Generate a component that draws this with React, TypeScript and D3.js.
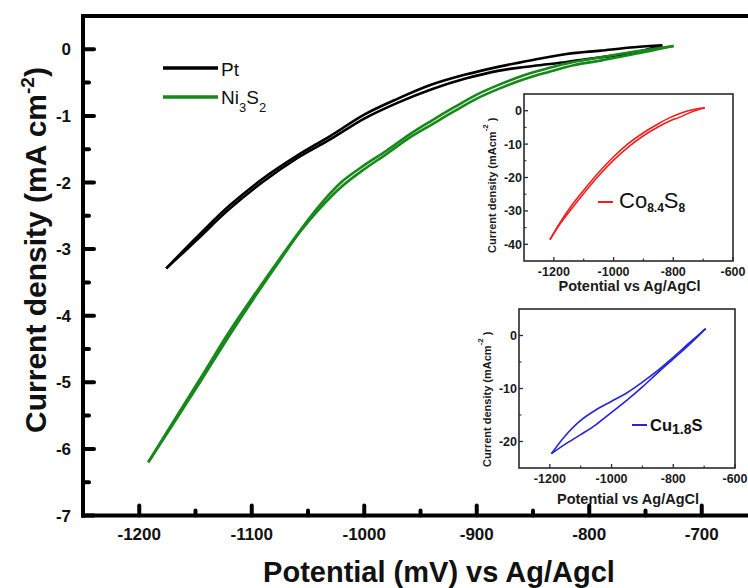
import React from "react";
import * as d3 from "d3";

type Pt = [number, number];

// ---------- data ----------
const ptUpper: Pt[] = [[-1176,-3.29],[-1150,-2.84],[-1120,-2.35],[-1090,-1.94],[-1060,-1.60],[-1030,-1.30],[-1000,-0.98],[-970,-0.74],[-940,-0.53],[-910,-0.38],[-880,-0.26],[-850,-0.16],[-820,-0.07],[-790,-0.02],[-760,0.03],[-735,0.06]];
const ptLower: Pt[] = [[-735,0.06],[-760,-0.05],[-790,-0.12],[-820,-0.19],[-850,-0.25],[-880,-0.32],[-910,-0.44],[-940,-0.60],[-970,-0.80],[-1000,-1.04],[-1030,-1.35],[-1060,-1.64],[-1090,-1.99],[-1120,-2.40],[-1150,-2.88],[-1176,-3.29]];
const niLower: Pt[] = [[-725,0.05],[-745,-0.02],[-769,-0.10],[-790,-0.17],[-814,-0.24],[-836,-0.34],[-858,-0.45],[-880,-0.59],[-900,-0.74],[-920,-0.93],[-940,-1.13],[-960,-1.33],[-980,-1.57],[-1000,-1.80],[-1020,-2.06],[-1040,-2.40],[-1057,-2.74],[-1075,-3.17],[-1095,-3.66],[-1120,-4.30],[-1146,-5.00],[-1170,-5.63],[-1192,-6.20]];
const niUpper: Pt[] = [[-1192,-6.20],[-1170,-5.60],[-1146,-4.95],[-1120,-4.24],[-1095,-3.62],[-1075,-3.14],[-1057,-2.72],[-1040,-2.35],[-1020,-1.99],[-1000,-1.74],[-980,-1.52],[-960,-1.28],[-940,-1.07],[-920,-0.87],[-900,-0.68],[-880,-0.53],[-858,-0.39],[-836,-0.28],[-814,-0.19],[-790,-0.12],[-769,-0.06],[-745,0.0],[-725,0.05]];

const coLower: Pt[] = [[-694,0.9],[-720,0.2],[-750,-0.8],[-780,-2.0],[-810,-3.0],[-850,-4.8],[-900,-7.5],[-950,-10.8],[-1000,-14.8],[-1050,-19.5],[-1100,-24.8],[-1140,-29.3],[-1180,-34.0],[-1213,-38.6]];
const coUpper: Pt[] = [[-1213,-38.6],[-1180,-33.6],[-1140,-28.3],[-1100,-23.8],[-1050,-18.5],[-1000,-13.8],[-950,-9.8],[-900,-6.6],[-850,-3.9],[-810,-2.0],[-780,-0.9],[-750,0.0],[-720,0.6],[-694,0.9]];

const cuUpper: Pt[] = [[-1195,-22.3],[-1150,-18.9],[-1100,-16.0],[-1050,-14.0],[-1000,-12.4],[-950,-10.8],[-900,-8.8],[-850,-6.6],[-800,-4.1],[-750,-1.5],[-695,1.3]];
const cuLower: Pt[] = [[-695,1.3],[-750,-1.8],[-800,-4.4],[-850,-7.0],[-900,-9.7],[-950,-12.2],[-1000,-14.5],[-1050,-16.8],[-1100,-18.7],[-1150,-20.5],[-1195,-22.3]];

const mainXTicks = [-1200, -1100, -1000, -900, -800, -700];
const mainXMinor = [-1250, -1150, -1050, -950, -850, -750, -650];
const mainYTicks = [0, -1, -2, -3, -4, -5, -6, -7];
const mainYMinor = [-0.5, -1.5, -2.5, -3.5, -4.5, -5.5, -6.5];
const insetXTicks = [-1200, -1000, -800, -600];
const insetXMinor = [-1100, -900, -700];
const coYTicks = [0, -10, -20, -30, -40];
const coYMinor = [-5, -15, -25, -35];
const cuYTicks = [0, -10, -20];
const cuYMinor = [-5, -15];

const FONT = "'Liberation Sans', Arial, Helvetica, sans-serif";
const GREEN = "#17891b";
const RED = "#f21d1d";
const BLUE = "#2424d8";

const curve = d3.curveCatmullRom.alpha(0.5);

function Inset(props: {
  x0: number; x1: number; y0: number; y1: number;
  yDomain: [number, number]; yTicks: number[]; yMinor: number[];
  series: Pt[][]; color: string;
  titleBase: number; labelX: number; labelY: number;
}) {
  const { x0, x1, y0, y1, yDomain, yTicks, yMinor, series, color, titleBase, labelX, labelY } = props;
  const x = d3.scaleLinear().domain([-1300, -600]).range([x0, x1]);
  const y = d3.scaleLinear().domain(yDomain).range([y1, y0]);
  const line = d3.line<Pt>().x(d => x(d[0])).y(d => y(d[1])).curve(curve);
  return (
    <g>
      <rect x={x0} y={y0} width={x1 - x0} height={y1 - y0} fill="#fff" stroke="#2a2a2a" strokeWidth={1.6} />
      {series.map((s, i) => (
        <path key={i} d={line(s) || ""} fill="none" stroke={color} strokeWidth={1.6} strokeLinejoin="round" />
      ))}
      {yTicks.map(t => (
        <g key={"y" + t}>
          <line x1={x0} x2={x0 + 4} y1={y(t)} y2={y(t)} stroke="#2a2a2a" strokeWidth={1.3} />
          <text x={x0 - 2} y={y(t) + 4.5} textAnchor="end" fontFamily={FONT} fontWeight="bold" fontSize={12.5} fill="#1a1a1a">{t}</text>
        </g>
      ))}
      {yMinor.map(t => (
        <line key={"ym" + t} x1={x0} x2={x0 + 2.5} y1={y(t)} y2={y(t)} stroke="#2a2a2a" strokeWidth={1.1} />
      ))}
      {insetXTicks.map(t => (
        <g key={"x" + t}>
          <line x1={x(t)} x2={x(t)} y1={y1} y2={y1 - 4} stroke="#2a2a2a" strokeWidth={1.3} />
          <text x={x(t)} y={y1 + 15} textAnchor="middle" fontFamily={FONT} fontWeight="bold" fontSize={12.5} fill="#1a1a1a">{t}</text>
        </g>
      ))}
      {insetXMinor.map(t => (
        <line key={"xm" + t} x1={x(t)} x2={x(t)} y1={y1} y2={y1 - 2.5} stroke="#2a2a2a" strokeWidth={1.1} />
      ))}
      <text x={(x0 + x1) / 2 + 1} y={titleBase} textAnchor="middle" fontFamily={FONT} fontWeight="bold" fontSize={14.5} fill="#1a1a1a">Potential vs Ag/AgCl</text>
      <text transform={`translate(${labelX},${labelY}) rotate(-90)`} fontFamily={FONT} fontWeight="bold" fontSize={11} fill="#1a1a1a">
        Current density (mAcm<tspan fontSize={8} dy={-8}>-2</tspan><tspan dy={8}> )</tspan>
      </text>
    </g>
  );
}

export default function App() {
  const x = d3.scaleLinear().domain([-1250, -650]).range([83, 758]);
  const y = d3.scaleLinear().domain([-7, 0.5]).range([515.5, 16]);
  const line = d3.line<Pt>().x(d => x(d[0])).y(d => y(d[1])).curve(curve);
  const left = x(-1250), bottom = y(-7), top = y(0.5);

  return (
    <svg width={748} height={588} style={{ position: "absolute", left: 0, top: 0, background: "#fff" }}>
      <rect width={748} height={588} fill="#fff" />
      {/* curves */}
      <path d={line(ptUpper) || ""} fill="none" stroke="#000" strokeWidth={2.6} strokeLinejoin="round" />
      <path d={line(ptLower) || ""} fill="none" stroke="#000" strokeWidth={2.6} strokeLinejoin="round" />
      <path d={line(niLower) || ""} fill="none" stroke={GREEN} strokeWidth={2.6} strokeLinejoin="round" />
      <path d={line(niUpper) || ""} fill="none" stroke={GREEN} strokeWidth={2.6} strokeLinejoin="round" />

      {/* frame */}
      <line x1={left} x2={760} y1={top} y2={top} stroke="#000" strokeWidth={4} />
      <line x1={left} x2={left} y1={top - 2} y2={bottom + 2} stroke="#000" strokeWidth={4} />
      <line x1={left - 2} x2={760} y1={bottom} y2={bottom} stroke="#000" strokeWidth={4} />

      {/* ticks */}
      {mainYTicks.map(t => (
        <g key={"y" + t}>
          <line x1={left} x2={left + 11} y1={y(t)} y2={y(t)} stroke="#000" strokeWidth={4} strokeLinecap="round" />
          <text x={71} y={y(t) + 6} textAnchor="end" fontFamily={FONT} fontWeight="bold" fontSize={17} fill="#111">{t}</text>
        </g>
      ))}
      {mainYMinor.map(t => (
        <line key={"ym" + t} x1={left} x2={left + 6} y1={y(t)} y2={y(t)} stroke="#000" strokeWidth={4} strokeLinecap="round" />
      ))}
      {mainXTicks.map(t => (
        <g key={"x" + t}>
          <line x1={x(t)} x2={x(t)} y1={bottom} y2={bottom - 10} stroke="#000" strokeWidth={4} strokeLinecap="round" />
          <text x={x(t)} y={540} textAnchor="middle" fontFamily={FONT} fontWeight="bold" fontSize={17} fill="#111">{t}</text>
        </g>
      ))}
      {mainXMinor.map(t => (
        <line key={"xm" + t} x1={x(t)} x2={x(t)} y1={bottom} y2={bottom - 5} stroke="#000" strokeWidth={4} strokeLinecap="round" />
      ))}

      {/* axis titles */}
      <text x={439} y={582} textAnchor="middle" fontFamily={FONT} fontWeight="bold" fontSize={29} fill="#111">Potential (mV) vs Ag/Agcl</text>
      <text transform="translate(46,250) rotate(-90)" textAnchor="middle" fontFamily={FONT} fontWeight="bold" fontSize={30} fill="#111">
        Current density (mA cm<tspan fontSize={19} dy={-12}>-2</tspan><tspan dy={12}>)</tspan>
      </text>

      {/* legend */}
      <line x1={163} x2={218} y1={68} y2={68} stroke="#000" strokeWidth={3.5} />
      <text x={221} y={76} fontFamily={FONT} fontSize={19} fill="#111">Pt</text>
      <line x1={163} x2={218} y1={97} y2={97} stroke={GREEN} strokeWidth={3.5} />
      <text x={221} y={104} fontFamily={FONT} fontSize={19} fill="#111">
        Ni<tspan fontSize={13} dy={8}>3</tspan><tspan dy={-8}>S</tspan><tspan fontSize={13} dy={8}>2</tspan>
      </text>

      {/* insets */}
      <Inset x0={524} x1={733} y0={94} y1={261} yDomain={[-45, 5]} yTicks={coYTicks} yMinor={coYMinor}
        series={[coLower, coUpper]} color={RED} titleBase={291} labelX={496} labelY={253} />
      <line x1={598} x2={613} y1={202} y2={202} stroke={RED} strokeWidth={2} />
      <text x={619} y={208} fontFamily={FONT} fontSize={22} fill="#111">
        Co<tspan fontSize={12} fontWeight="bold" dy={4}>8.4</tspan><tspan dy={-4}>S</tspan><tspan fontSize={12} fontWeight="bold" dy={4}>8</tspan>
      </text>

      <Inset x0={519} x1={735} y0={309} y1={468} yDomain={[-25, 5]} yTicks={cuYTicks} yMinor={cuYMinor}
        series={[cuUpper, cuLower]} color={BLUE} titleBase={504} labelX={491} labelY={467} />
      <line x1={632} x2={647} y1={425} y2={425} stroke={BLUE} strokeWidth={2} />
      <text x={650} y={431} fontFamily={FONT} fontWeight="bold" fontSize={16.5} fill="#111">
        Cu<tspan fontSize={14} dy={3}>1.8</tspan><tspan dy={-3}>S</tspan>
      </text>
    </svg>
  );
}
